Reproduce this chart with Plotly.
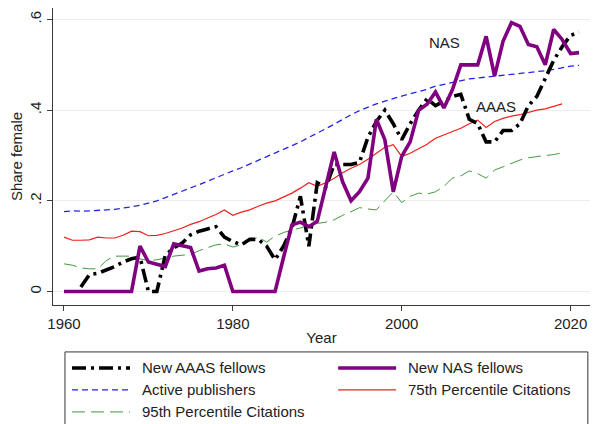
import plotly.graph_objects as go

# Share of women among new fellows and publishing scientists, by year
years_all = list(range(1960, 2022))          # 1960-2021
years_cit = list(range(1960, 2020))          # 1960-2019
years_aaas = list(range(1962, 2022))         # 1962-2021

aaas = [0.01, 0.037, 0.04, 0.047, 0.055, 0.065, 0.072, 0.076, 0.0, 0.0,
        0.08, 0.096, 0.107, 0.125, 0.133, 0.138, 0.143, 0.12, 0.11, 0.103,
        0.115, 0.115, 0.10, 0.07, 0.10, 0.14, 0.21, 0.10, 0.24, 0.23,
        0.28, 0.28, 0.28, 0.285, 0.34, 0.375, 0.40, 0.37, 0.335, 0.37,
        0.40, 0.425, 0.41, 0.42, 0.43, 0.435, 0.38, 0.37, 0.33, 0.33,
        0.355, 0.355, 0.37, 0.41, 0.43, 0.47, 0.51, 0.54, 0.565, 0.572]

nas = [0, 0, 0, 0, 0, 0, 0, 0, 0, 0.10,
       0.065, 0.06, 0.055, 0.105, 0.10, 0.097, 0.045, 0.05, 0.052, 0.058,
       0, 0, 0, 0, 0, 0, 0.075, 0.147, 0.153, 0.143,
       0.155, 0.23, 0.308, 0.242, 0.20, 0.22, 0.25, 0.38, 0.335, 0.22,
       0.298, 0.33, 0.40, 0.413, 0.44, 0.405, 0.445, 0.50, 0.50, 0.50,
       0.563, 0.475, 0.552, 0.593, 0.585, 0.545, 0.54, 0.50, 0.578, 0.556,
       0.525, 0.527]

publishers = [0.176, 0.178, 0.177, 0.178, 0.178, 0.179, 0.181, 0.184, 0.187, 0.19,
              0.195, 0.20, 0.207, 0.214, 0.221, 0.228, 0.235, 0.243, 0.251, 0.259,
              0.266, 0.273, 0.281, 0.289, 0.297, 0.305, 0.313, 0.321, 0.33, 0.34,
              0.349, 0.359, 0.369, 0.38, 0.39, 0.399, 0.407, 0.414, 0.42, 0.426,
              0.431, 0.436, 0.441, 0.446, 0.453, 0.457, 0.461, 0.466, 0.469, 0.471,
              0.473, 0.475, 0.477, 0.479, 0.48, 0.482, 0.484, 0.487, 0.49, 0.494,
              0.497, 0.499]

cit75 = [0.12, 0.113, 0.113, 0.114, 0.12, 0.118, 0.118, 0.124, 0.133, 0.132,
         0.123, 0.124, 0.128, 0.134, 0.14, 0.148, 0.154, 0.162, 0.17, 0.18,
         0.168, 0.175, 0.18, 0.188, 0.195, 0.20, 0.209, 0.217, 0.228, 0.24,
         0.232, 0.24, 0.25, 0.262, 0.272, 0.28, 0.292, 0.305, 0.318, 0.324,
         0.298, 0.305, 0.315, 0.325, 0.338, 0.345, 0.352, 0.36, 0.37, 0.378,
         0.362, 0.375, 0.382, 0.387, 0.39, 0.395, 0.40, 0.403, 0.408, 0.414]

cit95 = [0.061, 0.058, 0.052, 0.05, 0.05, 0.068, 0.078, 0.078, 0.078, 0.072,
         0.068, 0.07, 0.074, 0.078, 0.08, 0.082, 0.09, 0.096, 0.103, 0.105,
         0.098, 0.103, 0.112, 0.12, 0.109, 0.122, 0.13, 0.136, 0.14, 0.146,
         0.15, 0.153, 0.158, 0.168, 0.176, 0.185, 0.182, 0.18, 0.20, 0.22,
         0.196, 0.21, 0.217, 0.215, 0.22, 0.232, 0.25, 0.255, 0.266, 0.26,
         0.25, 0.268, 0.275, 0.283, 0.29, 0.295, 0.298, 0.30, 0.302, 0.306]

x_ticks = [1960, 1980, 2000, 2020]
y_ticks = [0, 0.2, 0.4, 0.6]
y_tick_text = ["0", ".2", ".4", ".6"]

FONT = "Liberation Sans, Arial, sans-serif"
AXIS = "#3a3a3a"

styles = {
    "aaas": dict(color="black", width=3.6, dash="14px,5px,3px,5px"),
    "nas": dict(color="#800080", width=3.6, dash="solid"),
    "pub": dict(color="#2323e6", width=1.3, dash="6px,4px"),
    "c75": dict(color="#f0201c", width=1.2, dash="solid"),
    "c95": dict(color="#3f9a3f", width=1.0, dash="13px,6px"),
}

fig = go.Figure()
fig.add_trace(go.Scatter(x=years_cit, y=cit95, mode="lines", line=styles["c95"],
                         name="95th Percentile Citations"))
fig.add_trace(go.Scatter(x=years_cit, y=cit75, mode="lines", line=styles["c75"],
                         name="75th Percentile Citations"))
fig.add_trace(go.Scatter(x=years_all, y=publishers, mode="lines", line=styles["pub"],
                         name="Active publishers"))
fig.add_trace(go.Scatter(x=years_aaas, y=aaas, mode="lines", line=styles["aaas"],
                         name="New AAAS fellows"))
fig.add_trace(go.Scatter(x=years_all, y=nas, mode="lines", line=styles["nas"],
                         name="New NAS fellows"))

# In-plot series labels
fig.add_annotation(x=2005.1, y=0.549, text="NAS", showarrow=False,
                   font=dict(family=FONT, size=15, color="#222"))
fig.add_annotation(x=2011.2, y=0.408, text="AAAS", showarrow=False,
                   font=dict(family=FONT, size=15, color="#222"))

# Two-column legend box below the plot (paper coordinates)
shapes = [dict(type="rect", xref="paper", yref="paper", x0=0.0223, x1=0.996,
               y0=-0.45, y1=-0.158, line=dict(color="#333", width=1),
               fillcolor="white", layer="above")]
entries = [
    ("New AAAS fellows", "aaas", 0.0354, 0.1434, 0.162, -0.212),
    ("New NAS fellows", "nas", 0.531, 0.639, 0.657, -0.212),
    ("Active publishers", "pub", 0.0354, 0.1434, 0.162, -0.286),
    ("75th Percentile Citations", "c75", 0.531, 0.639, 0.657, -0.286),
    ("95th Percentile Citations", "c95", 0.0354, 0.1434, 0.162, -0.36),
]
for label, key, sx0, sx1, tx, ty in entries:
    st = styles[key]
    shapes.append(dict(type="line", xref="paper", yref="paper", x0=sx0, x1=sx1,
                       y0=ty, y1=ty, layer="above",
                       line=dict(color=st["color"], width=st["width"], dash=st["dash"])))
    fig.add_annotation(xref="paper", yref="paper", x=tx, y=ty, text=label,
                       showarrow=False, xanchor="left", yanchor="middle",
                       font=dict(family=FONT, size=15, color="#222"))

fig.update_layout(
    width=596, height=424,
    margin=dict(l=53, r=6, t=8, b=119),
    paper_bgcolor="white", plot_bgcolor="white",
    showlegend=False,
    shapes=shapes,
    font=dict(family=FONT, size=15, color="#222"),
)
fig.update_xaxes(range=[1958.7, 2022.3], tickvals=x_ticks, ticks="outside",
                 ticklen=5, tickcolor=AXIS, showline=True, linecolor=AXIS,
                 linewidth=1, showgrid=False, zeroline=False,
                 title=dict(text="Year", standoff=1,
                            font=dict(family=FONT, size=15, color="#222")),
                 tickfont=dict(family=FONT, size=15, color="#222"))
fig.update_yaxes(range=[-0.0298, 0.6254], tickvals=y_ticks, ticktext=y_tick_text,
                 tickangle=-90, ticks="outside", ticklen=5, tickcolor=AXIS,
                 showline=True, linecolor=AXIS, linewidth=1,
                 showgrid=True, gridcolor="#ececec", gridwidth=1, zeroline=False,
                 title=dict(text="Share female", standoff=0,
                            font=dict(family=FONT, size=15, color="#222")),
                 tickfont=dict(family=FONT, size=15, color="#222"))

fig.write_html("out.html")
